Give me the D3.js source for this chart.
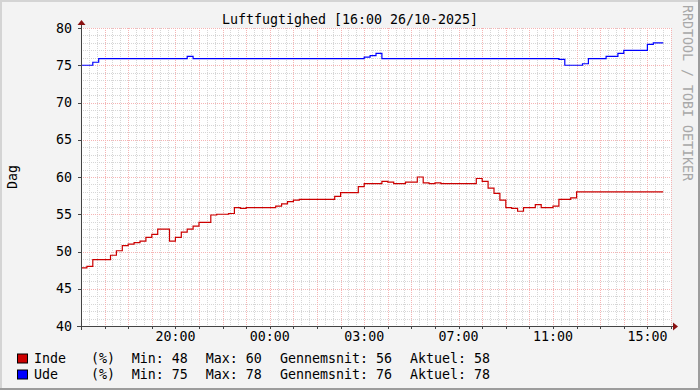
<!DOCTYPE html>
<html>
<head>
<meta charset="UTF-8">
<title>Luftfugtighed</title>
<script src="https://cdn.jsdelivr.net/npm/d3@7"></script>
<style>
  body { margin: 0; background: #fff; }
  text { font-family: "DejaVu Sans Mono", monospace; font-size: 13.3px; fill: #000; white-space: pre; }
  .grid-minor { stroke: #d6d6d6; stroke-dasharray: 1,1; shape-rendering: crispEdges; }
  .grid-major { stroke: #f5b4b4; stroke-dasharray: 1,1; shape-rendering: crispEdges; }
</style>
</head>
<body>
<svg id="chart"></svg>
<script>
const title = "Luftfugtighed [16:00 26/10-2025]";
const yTitle = "Dag";
const watermark = "RRDTOOL / TOBI OETIKER";

// hours since 16:00 (25/10), real time - DST ends in the night so 25h span
const spanHours = 25;
const tickHours = [4, 8, 12, 16, 20, 24];
const tickLabels = ["20:00", "00:00", "03:00", "07:00", "11:00", "15:00"];
const yTicks = [40, 45, 50, 55, 60, 65, 70, 75, 80];
const lastHour = 24.67;

const indeHours = [0, 0.25, 0.5, 1.25, 1.5, 1.75, 2, 2.25, 2.5, 2.75, 3, 3.25, 3.75, 4, 4.25, 4.5, 4.75, 5,
  5.5, 5.75, 6.25, 6.5, 6.75, 7, 8.25, 8.5, 8.75, 9, 9.25, 10.75, 11, 11.75, 12, 12.75, 13, 13.25, 13.75,
  14.25, 14.5, 14.75, 15, 15.25, 16.75, 17, 17.25, 17.5, 17.75, 18, 18.25, 18.5, 18.75, 19.25, 19.5, 20,
  20.25, 20.75, 21];
const indeValues = [47.8, 48.0, 48.9, 49.5, 50.1, 50.8, 51.0, 51.2, 51.4, 51.9, 52.3, 53.0, 51.4, 51.9, 52.6, 53.0, 53.4, 53.9,
  54.9, 55.0, 55.1, 55.9, 55.8, 55.9, 56.1, 56.4, 56.7, 56.9, 57.0, 57.4, 57.9, 58.7, 59.1, 59.4, 59.3, 59.1, 59.3,
  60.0, 59.2, 59.1, 59.2, 59.1, 59.8, 59.4, 58.5, 57.8, 56.9, 55.9, 55.8, 55.4, 55.9, 56.3, 55.9, 56.1,
  57.0, 57.2, 58.0];

const udeHours = [0, 0.5, 0.75, 4.5, 4.75, 12, 12.25, 12.5, 12.75, 20.25, 20.5, 21.25, 21.5, 22.25, 22.75, 23, 24, 24.25];
const udeValues = [75.0, 75.4, 75.9, 76.2, 75.9, 76.1, 76.3, 76.6, 75.9, 75.8, 75.0, 75.2, 75.9, 76.2, 76.6, 77.0, 77.8, 78.0];

const seriesNames = ["Inde", "Ude"];
const seriesColors = ["#cc0000", "#0000ff"];
const statMin = ["48", "75"];
const statMax = ["60", "78"];
const statAvg = ["56", "76"];
const statNow = ["58", "78"];

const W = 700, H = 390;
const plot = { left: 81, right: 671, top: 28, bottom: 326 };

const svg = d3.select("#chart").attr("width", W).attr("height", H);

// frame
svg.append("rect").attr("width", W).attr("height", H).attr("fill", "#f3f3f3");
svg.append("rect").attr("x", 0).attr("y", 0).attr("width", W).attr("height", 2).attr("fill", "#d4d4d4");
svg.append("rect").attr("x", 0).attr("y", 0).attr("width", 2).attr("height", H).attr("fill", "#d4d4d4");
svg.append("rect").attr("x", 0).attr("y", H - 2).attr("width", W).attr("height", 2).attr("fill", "#9c9c9c");
svg.append("rect").attr("x", W - 2).attr("y", 0).attr("width", 2).attr("height", H).attr("fill", "#9c9c9c");

const x = d3.scaleLinear().domain([0, spanHours]).range([plot.left, plot.right]);
const y = d3.scaleLinear().domain([40, 80]).range([plot.bottom, plot.top]);
const px = v => Math.round(v) + 0.5;

svg.append("rect")
  .attr("x", plot.left).attr("y", plot.top)
  .attr("width", plot.right - plot.left).attr("height", plot.bottom - plot.top)
  .attr("fill", "#fff");

// grid
const g = svg.append("g");
const minorX = d3.range(0, spanHours * 3 + 1).filter(i => i % 3 != 0).map(i => i / 3);
const majorX = d3.range(1, spanHours + 1);
const minorY = d3.range(41, 80).filter(v => v % 5 != 0);
const majorY = yTicks.filter(v => v > 40);

g.selectAll(".mx").data(minorX).enter().append("line").attr("class", "grid-minor")
  .attr("x1", d => px(x(d))).attr("x2", d => px(x(d)))
  .attr("y1", plot.top).attr("y2", plot.bottom);
g.selectAll(".my").data(minorY).enter().append("line").attr("class", "grid-minor")
  .attr("x1", plot.left).attr("x2", plot.right)
  .attr("y1", d => px(y(d))).attr("y2", d => px(y(d)));
g.selectAll(".Mx").data(majorX).enter().append("line").attr("class", "grid-major")
  .attr("x1", d => px(x(d))).attr("x2", d => px(x(d)))
  .attr("y1", plot.top).attr("y2", plot.bottom);
g.selectAll(".My").data(majorY).enter().append("line").attr("class", "grid-major")
  .attr("x1", plot.left).attr("x2", plot.right)
  .attr("y1", d => px(y(d))).attr("y2", d => px(y(d)));

// series
const line = d3.line().x(d => x(d[0])).y(d => y(d[1])).curve(d3.curveStepAfter);
function pts(hours, values) {
  const p = hours.map((h, i) => [h, values[i]]);
  p.push([lastHour, values[values.length - 1]]);
  return p;
}
svg.append("path").datum(pts(indeHours, indeValues))
  .attr("d", line).attr("fill", "none").attr("stroke", seriesColors[0]).attr("stroke-width", 1.2);
svg.append("path").datum(pts(udeHours, udeValues))
  .attr("d", line).attr("fill", "none").attr("stroke", seriesColors[1]).attr("stroke-width", 1.2);

// axes
const axisColor = "#444";
svg.append("line").attr("x1", px(plot.left)).attr("x2", px(plot.left))
  .attr("y1", 23).attr("y2", plot.bottom + 4).attr("stroke", axisColor).attr("shape-rendering", "crispEdges");
svg.append("line").attr("x1", plot.left - 4).attr("x2", plot.right + 2)
  .attr("y1", px(plot.bottom)).attr("y2", px(plot.bottom)).attr("stroke", axisColor).attr("shape-rendering", "crispEdges");
svg.append("path").attr("d", `M${plot.left - 3.5},${plot.top - 3} L${plot.left + 4.5},${plot.top - 3} L${plot.left + 0.5},${plot.top - 8} Z`)
  .attr("fill", "#8a1010");
svg.append("path").attr("d", `M${plot.right + 2},${plot.bottom - 3.5} L${plot.right + 2},${plot.bottom + 4.5} L${plot.right + 7},${plot.bottom + 0.5} Z`)
  .attr("fill", "#8a1010");

svg.selectAll(".yt").data(yTicks).enter().append("line")
  .attr("x1", plot.left - 3).attr("x2", plot.left)
  .attr("y1", d => px(y(d))).attr("y2", d => px(y(d)))
  .attr("stroke", axisColor).attr("shape-rendering", "crispEdges");
svg.selectAll(".xt").data(majorX).enter().append("line")
  .attr("x1", d => px(x(d))).attr("x2", d => px(x(d)))
  .attr("y1", plot.bottom).attr("y2", plot.bottom + 3)
  .attr("stroke", axisColor).attr("shape-rendering", "crispEdges");

svg.selectAll(".yl").data(yTicks).enter().append("text")
  .attr("x", 72).attr("y", d => y(d) + 4.5)
  .attr("text-anchor", "end").text(d => d);
svg.selectAll(".xl").data(tickHours).enter().append("text")
  .attr("x", d => x(d)).attr("y", 341)
  .attr("text-anchor", "middle").text((d, i) => tickLabels[i]);

// titles
svg.append("text").attr("x", 350).attr("y", 24).attr("text-anchor", "middle").text(title);
svg.append("text").attr("transform", "translate(16.5,177) rotate(-90)")
  .attr("text-anchor", "middle").text(yTitle);
svg.append("text").attr("transform", "translate(683,5) rotate(90)")
  .style("fill", "#a8a8a8").text(watermark);

// legend
const legendY = [362.5, 378.5];
const lg = svg.selectAll(".leg").data(seriesNames).enter().append("g");
lg.append("rect").attr("x", 17.5).attr("y", (d, i) => legendY[i] - 8.5)
  .attr("width", 10).attr("height", 9)
  .attr("fill", (d, i) => seriesColors[i]).attr("stroke", "#000");
lg.append("text").attr("x", 34).attr("y", (d, i) => legendY[i]).text(d => d);
lg.append("text").attr("x", 91).attr("y", (d, i) => legendY[i]).text("(%)");
lg.append("text").attr("x", 131.7).attr("y", (d, i) => legendY[i]).text((d, i) => "Min: " + statMin[i]);
lg.append("text").attr("x", 205.7).attr("y", (d, i) => legendY[i]).text((d, i) => "Max: " + statMax[i]);
lg.append("text").attr("x", 280).attr("y", (d, i) => legendY[i]).text((d, i) => "Gennemsnit: " + statAvg[i]);
lg.append("text").attr("x", 410).attr("y", (d, i) => legendY[i]).text((d, i) => "Aktuel: " + statNow[i]);
</script>
</body>
</html>
